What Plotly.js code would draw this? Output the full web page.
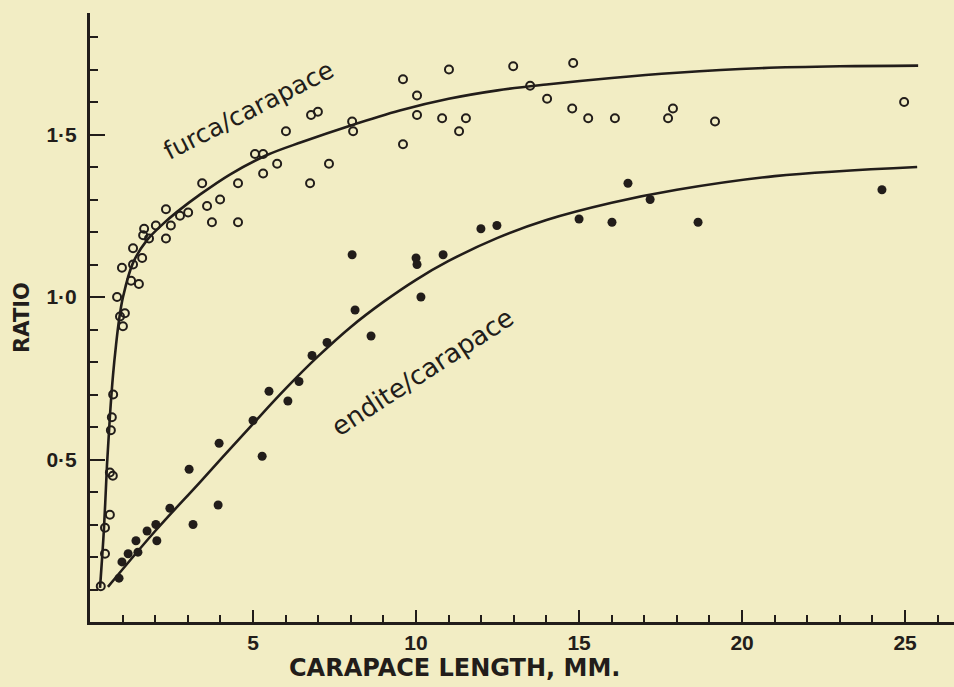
<!DOCTYPE html>
<html>
<head>
<meta charset="utf-8">
<script src="https://cdn.plot.ly/plotly-3.0.1.min.js"></script>
<style>
  html, body { margin: 0; padding: 0; background: #f2edc4; }
  #chart { width: 954px; height: 687px; }
</style>
</head>
<body>
<div id="chart"></div>
<script>
// Furca / carapace (open circles)
const furcaX = [0.33, 0.46, 0.46, 0.61, 0.61, 0.70, 0.64, 0.67, 0.71, 0.92, 1.07, 1.01, 0.83, 1.26, 1.50, 0.98, 1.32, 1.60, 1.32, 1.66, 1.63, 1.81, 2.02, 2.33, 2.48, 2.33, 2.76, 3.01, 3.44, 3.59, 3.99, 3.74, 4.54, 4.54, 5.06, 5.31, 5.31, 5.74, 6.01, 6.75, 6.78, 6.99, 7.33, 8.04, 8.07, 9.60, 9.60, 10.03, 10.03, 10.80, 11.01, 11.32, 11.53, 12.98, 13.50, 14.02, 14.82, 14.79, 15.28, 16.10, 17.73, 17.88, 19.17, 24.97];
const furcaY = [0.11, 0.21, 0.29, 0.33, 0.46, 0.45, 0.59, 0.63, 0.70, 0.94, 0.95, 0.91, 1.00, 1.05, 1.04, 1.09, 1.10, 1.12, 1.15, 1.21, 1.19, 1.18, 1.22, 1.27, 1.22, 1.18, 1.25, 1.26, 1.35, 1.28, 1.30, 1.23, 1.35, 1.23, 1.44, 1.44, 1.38, 1.41, 1.51, 1.35, 1.56, 1.57, 1.41, 1.54, 1.51, 1.67, 1.47, 1.62, 1.56, 1.55, 1.70, 1.51, 1.55, 1.71, 1.65, 1.61, 1.72, 1.58, 1.55, 1.55, 1.55, 1.58, 1.54, 1.60];

// Endite / carapace (filled circles)
const enditeX = [0.89, 0.98, 1.17, 1.47, 1.41, 1.75, 2.05, 2.02, 2.45, 3.16, 3.04, 3.93, 3.96, 5.28, 5.00, 5.49, 6.07, 6.41, 6.81, 7.27, 8.13, 8.62, 8.04, 10.15, 10.00, 10.03, 10.83, 11.99, 12.48, 15.00, 16.01, 16.50, 17.18, 18.65, 24.29];
const enditeY = [0.135, 0.185, 0.21, 0.215, 0.25, 0.28, 0.25, 0.30, 0.35, 0.30, 0.47, 0.36, 0.55, 0.51, 0.62, 0.71, 0.68, 0.74, 0.82, 0.86, 0.96, 0.88, 1.13, 1.00, 1.12, 1.10, 1.13, 1.21, 1.22, 1.24, 1.23, 1.35, 1.30, 1.23, 1.33];

// Hand-drawn fitted curves
const furcaCurveX = [0.307, 0.429, 0.521, 0.613, 0.706, 0.798, 0.890, 1.012, 1.319, 1.748, 2.24, 2.67, 3.37, 4.29, 5.43, 6.5, 8.0, 9.5, 11.0, 12.5, 14.0, 16.0, 18.0, 20.5, 23.0, 25.4];
const furcaCurveY = [0.105, 0.289, 0.483, 0.637, 0.760, 0.852, 0.929, 1.0, 1.105, 1.175, 1.225, 1.262, 1.315, 1.377, 1.437, 1.477, 1.528, 1.574, 1.61, 1.636, 1.654, 1.674, 1.69, 1.704, 1.71, 1.712];
const enditeCurveX = [0.55, 2.0, 3.37, 5.0, 6.0, 7.0, 8.0, 9.0, 10.0, 11.0, 12.5, 14.0, 16.0, 18.0, 21.0, 25.37];
const enditeCurveY = [0.108, 0.28, 0.43, 0.61, 0.718, 0.818, 0.908, 0.985, 1.053, 1.111, 1.182, 1.237, 1.29, 1.33, 1.372, 1.40];

// Tick labels
const xTickVals = [5, 10, 15, 20, 25];
const xTickText = ['5', '10', '15', '20', '25'];
const yTickVals = [0.5, 1.0, 1.5];
const yTickText = ['0·5', '1·0', '1·5'];

const ink = '#221d1a';
const paper = '#f2edc4';

// minor tick positions (every 1 mm, every 0.1 in ratio) with labels only at the major values
const xMinorVals = [], xMinorText = [];
for (let i = 1; i <= 26; i++) {
  xMinorVals.push(i);
  const k = xTickVals.indexOf(i);
  xMinorText.push(k >= 0 ? xTickText[k] : '');
}
const yMinorVals = [], yMinorText = [];
for (let i = 1; i <= 18; i++) {
  const v = i / 10;
  yMinorVals.push(v);
  const k = yTickVals.findIndex(t => Math.abs(t - v) < 1e-9);
  yMinorText.push(k >= 0 ? yTickText[k] : '');
}

const xRange = [0, 26.5];
const yRange = [0, 1.874];

const traces = [
  { x: furcaCurveX, y: furcaCurveY, xaxis: 'x2', yaxis: 'y2', mode: 'lines', line: { color: ink, width: 2.6, shape: 'spline', smoothing: 1 }, hoverinfo: 'skip' },
  { x: enditeCurveX, y: enditeCurveY, xaxis: 'x2', yaxis: 'y2', mode: 'lines', line: { color: ink, width: 2.6, shape: 'spline', smoothing: 1 }, hoverinfo: 'skip' },
  { x: furcaX, y: furcaY, mode: 'markers', marker: { symbol: 'circle-open', size: 8, color: ink, line: { width: 2, color: ink } } },
  { x: enditeX, y: enditeY, mode: 'markers', marker: { symbol: 'circle', size: 9, color: ink } }
];

const layout = {
  width: 954, height: 687,
  margin: { l: 90, r: 0, t: 13, b: 65 },
  paper_bgcolor: paper, plot_bgcolor: paper,
  showlegend: false,
  xaxis: {
    range: xRange, showgrid: false, zeroline: false,
    showline: true, linecolor: ink, linewidth: 3,
    ticks: 'inside', ticklen: 7, tickwidth: 2, tickcolor: ink,
    tickmode: 'array', tickvals: xMinorVals, ticktext: xMinorText,
    tickfont: { family: 'Liberation Sans', size: 21, color: ink, weight: 'bold' }
  },
  yaxis: {
    range: yRange, showgrid: false, zeroline: false,
    showline: true, linecolor: ink, linewidth: 3,
    ticks: 'inside', ticklen: 8, tickwidth: 2, tickcolor: ink,
    tickmode: 'array', tickvals: yMinorVals, ticktext: yMinorText,
    tickfont: { family: 'Liberation Sans', size: 21, color: ink, weight: 'bold' },
    ticklabelstandoff: 6,
    title: { text: 'RATIO', font: { family: 'DejaVu Sans', size: 21, color: ink, weight: 'bold' }, standoff: 12 }
  },
  xaxis2: {
    overlaying: 'x', anchor: 'y2', side: 'bottom', range: xRange,
    showgrid: false, zeroline: false, showline: false, showticklabels: false,
    ticks: 'inside', ticklen: 12, tickwidth: 2, tickcolor: ink,
    tickmode: 'array', tickvals: xTickVals
  },
  yaxis2: {
    overlaying: 'y', anchor: 'x2', side: 'left', range: yRange,
    showgrid: false, zeroline: false, showline: false, showticklabels: false,
    ticks: 'inside', ticklen: 15, tickwidth: 2, tickcolor: ink,
    tickmode: 'array', tickvals: yTickVals
  },
  annotations: [
    { text: 'CARAPACE LENGTH, MM.', xref: 'paper', yref: 'paper', x: 0.422, y: -0.0755, yanchor: 'middle', xanchor: 'center', showarrow: false,
      font: { family: 'DejaVu Sans', size: 24, color: ink, weight: 'bold' } },
    { text: 'furca/carapace', xref: 'x', yref: 'y', x: 4.85, y: 1.575, textangle: -27, showarrow: false,
      font: { family: 'DejaVu Sans', size: 25, color: ink } },
    { text: 'endite/carapace', xref: 'x', yref: 'y', x: 10.2, y: 0.77, textangle: -33, showarrow: false,
      font: { family: 'DejaVu Sans', size: 26, color: ink } }
  ]
};

Plotly.newPlot('chart', traces, layout, { displayModeBar: false, staticPlot: true });
</script>
</body>
</html>
